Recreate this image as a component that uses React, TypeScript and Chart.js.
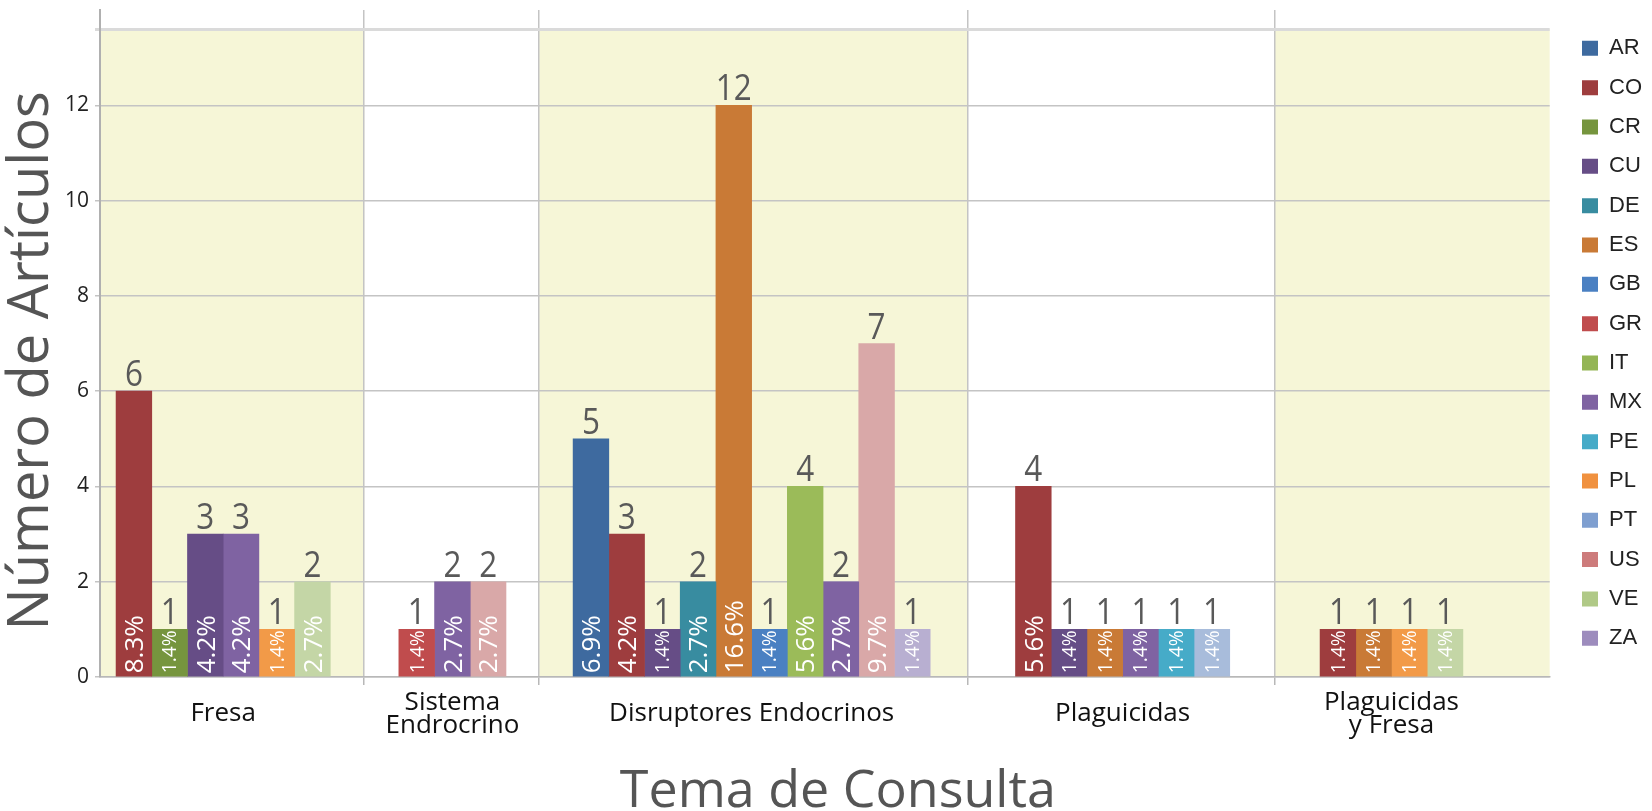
import React, { useEffect, useRef } from 'react';
import { Chart, registerables } from 'chart.js';

Chart.register(...registerables);

// ---------------- DATA ----------------
const categories: (string | string[])[] = [
  'Fresa',
  ['Sistema', 'Endrocrino'],
  'Disruptores Endocrinos',
  'Plaguicidas',
  ['Plaguicidas', 'y Fresa'],
];

const countries = ['AR', 'CO', 'CR', 'CU', 'DE', 'ES', 'GB', 'GR', 'IT', 'MX', 'PE', 'PL', 'PT', 'US', 'VE', 'ZA'];

const fresaCountries = ['CO', 'CR', 'CU', 'MX', 'PL', 'VE'];
const fresaValues = [6, 1, 3, 3, 1, 2];
const fresaPercents = ['8.3%', '1.4%', '4.2%', '4.2%', '1.4%', '2.7%'];

const sistemaCountries = ['GR', 'MX', 'US'];
const sistemaValues = [1, 2, 2];
const sistemaPercents = ['1.4%', '2.7%', '2.7%'];

const disruptoresCountries = ['AR', 'CO', 'CU', 'DE', 'ES', 'GB', 'IT', 'MX', 'US', 'ZA'];
const disruptoresValues = [5, 3, 1, 2, 12, 1, 4, 2, 7, 1];
const disruptoresPercents = ['6.9%', '4.2%', '1.4%', '2.7%', '16.6%', '1.4%', '5.6%', '2.7%', '9.7%', '1.4%'];

const plaguicidasCountries = ['CO', 'CU', 'ES', 'MX', 'PE', 'PT'];
const plaguicidasValues = [4, 1, 1, 1, 1, 1];
const plaguicidasPercents = ['5.6%', '1.4%', '1.4%', '1.4%', '1.4%', '1.4%'];

const plagFresaCountries = ['CO', 'ES', 'PL', 'VE'];
const plagFresaValues = [1, 1, 1, 1];
const plagFresaPercents = ['1.4%', '1.4%', '1.4%', '1.4%'];

const yTickValues = [0, 2, 4, 6, 8, 10, 12];
const yAxisMax = 14;

const xTitle = 'Tema de Consulta';
const yTitle = 'Número de Artículos';

// ---------------- STYLE / LAYOUT ----------------
const BAR_COLORS = [
  '#3e6a9f', '#9e3d3e', '#76953e', '#664d86', '#388ca0', '#c97a36', '#4a80c2', '#c04c4d',
  '#9bbb59', '#7f63a2', '#46abc8', '#f29a48', '#a8bcdb', '#d9a8a8', '#c4d6a6', '#b8afd1',
];
const LEGEND_COLORS = [
  '#3e6a9f', '#9e3d3e', '#76953e', '#664d86', '#388ca0', '#c97a36', '#4a80c2', '#c04c4d',
  '#94b555', '#7f63a2', '#46abc8', '#f0913f', '#7f9fd0', '#cd7b7b', '#b0c987', '#9d8cbd',
];
// width of every category band and the gap before its first bar, in bar widths
const BAND_UNITS = [7.4, 4.9, 12, 8.6, 7.7];
const BAND_LEFT_PAD = [0.45, 0.97, 0.95, 1.34, 1.27];
const BAND_SHADED = [true, false, true, false, true];
const SHADE_COLOR = '#f6f6d7';
const SHADE_TOP = 13.6;

const groups = [
  { c: fresaCountries, v: fresaValues, p: fresaPercents },
  { c: sistemaCountries, v: sistemaValues, p: sistemaPercents },
  { c: disruptoresCountries, v: disruptoresValues, p: disruptoresPercents },
  { c: plaguicidasCountries, v: plaguicidasValues, p: plaguicidasPercents },
  { c: plagFresaCountries, v: plagFresaValues, p: plagFresaPercents },
];

const bandStarts: number[] = [];
BAND_UNITS.reduce((acc, w) => { bandStarts.push(acc); return acc + w; }, 0);
const totalUnits = BAND_UNITS.reduce((a, b) => a + b, 0);

type Pt = { x: number; y: number; pct: string };
const perCountry: Pt[][] = countries.map(() => []);
const groupCenters: number[] = [];
groups.forEach((g, gi) => {
  const start = bandStarts[gi] + BAND_LEFT_PAD[gi];
  groupCenters.push(start + g.v.length / 2);
  g.c.forEach((country, j) => {
    const ci = countries.indexOf(country);
    perCountry[ci].push({ x: start + j + 0.5, y: g.v[j], pct: g.p[j] });
  });
});

// x ticks: band boundaries (grid lines) and group centres (labels)
const xTickEntries: { value: number; label: string | string[]; boundary: boolean }[] = [];
bandStarts.forEach((s, i) => {
  if (i > 0) xTickEntries.push({ value: s, label: '', boundary: true });
  xTickEntries.push({ value: groupCenters[i], label: categories[i], boundary: false });
});

const bandPlugin = {
  id: 'bands',
  beforeDraw(chart: any) {
    const { ctx, scales } = chart;
    const x = scales.x;
    const y = scales.y;
    const top = y.getPixelForValue(SHADE_TOP);
    const bottom = y.getPixelForValue(0);
    ctx.save();
    ctx.fillStyle = SHADE_COLOR;
    bandStarts.forEach((s, i) => {
      if (!BAND_SHADED[i]) return;
      const l = x.getPixelForValue(s);
      const r = x.getPixelForValue(s + BAND_UNITS[i]);
      ctx.fillRect(l, top, r - l, bottom - top);
    });
    ctx.restore();
  },
};

const titlePlugin = {
  id: 'axisTitles',
  afterDraw(chart: any) {
    const ctx = chart.ctx;
    const area = chart.chartArea;
    ctx.save();
    ctx.fillStyle = '#555555';
    ctx.textAlign = 'center';
    ctx.textBaseline = 'middle';
    ctx.font = '52px "Open Sans"';
    ctx.fillText(xTitle, area.left + (area.right - area.left) * 0.509, 792);
    ctx.translate(32, area.top + (area.bottom - area.top) * 0.526);
    ctx.rotate(-Math.PI / 2);
    ctx.font = '56px "Open Sans"';
    ctx.fillText(yTitle, 0, 0);
    ctx.restore();
  },
};

const labelPlugin = {
  id: 'barLabels',
  afterDatasetsDraw(chart: any) {
    const ctx = chart.ctx;
    chart.data.datasets.forEach((ds: any, di: number) => {
      const meta = chart.getDatasetMeta(di);
      meta.data.forEach((bar: any, i: number) => {
        const pt = ds.data[i] as Pt;
        const { x, y, base } = bar.getProps(['x', 'y', 'base'], true);
        // value above bar
        ctx.save();
        ctx.fillStyle = '#595959';
        ctx.font = '37px "Open Sans"';
        ctx.textAlign = 'center';
        ctx.textBaseline = 'alphabetic';
        ctx.translate(x, y - 5);
        ctx.scale(0.85, 1);
        ctx.fillText(String(pt.y), 0, 0);
        ctx.restore();
        // percentage inside bar
        ctx.save();
        let size = 26;
        ctx.font = `${size}px "Open Sans"`;
        const w = ctx.measureText(pt.pct).width;
        const avail = base - y - 4;
        if (w > avail) size = (size * avail) / w;
        ctx.font = `${size}px "Open Sans"`;
        ctx.fillStyle = '#ffffff';
        ctx.textAlign = 'left';
        ctx.textBaseline = 'alphabetic';
        ctx.translate(x, base - 3);
        ctx.rotate(-Math.PI / 2);
        ctx.fillText(pt.pct, 0, size * 0.357);
        ctx.restore();
      });
    });
  },
};

const zeroPadding = (axis: any) => {
  axis.paddingTop = 0;
  axis.paddingBottom = 0;
  axis.paddingLeft = 0;
  axis.paddingRight = 0;
};

export default function App() {
  const ref = useRef<HTMLCanvasElement | null>(null);

  useEffect(() => {
    document.body.style.margin = '0';
    if (!ref.current) return;
    Chart.defaults.font.family = '"Open Sans", sans-serif';
    const chart = new Chart(ref.current, {
      type: 'bar',
      data: {
        datasets: countries.map((c, i) => ({
          label: c,
          data: perCountry[i] as any,
          backgroundColor: BAR_COLORS[i],
          borderWidth: 0,
          grouped: false,
          barPercentage: 1,
          categoryPercentage: 1,
          xAxisID: 'x',
          yAxisID: 'y',
        })),
      },
      options: {
        animation: false,
        responsive: false,
        devicePixelRatio: 1,
        events: [],
        layout: { padding: { top: 10, left: 0, right: 0, bottom: 0 } },
        plugins: {
          tooltip: { enabled: false },
          legend: {
            position: 'right',
            align: 'start',
            title: { display: true, text: '', font: { size: 10, lineHeight: 1 }, padding: 0 },
            labels: {
              boxWidth: 16,
              boxHeight: 15,
              padding: 17.33,
              color: '#222222',
              font: { family: '"Liberation Sans", Arial, sans-serif', size: 22 },
              generateLabels: () =>
                countries.map((c, i) => ({
                  text: c,
                  fillStyle: LEGEND_COLORS[i],
                  strokeStyle: LEGEND_COLORS[i],
                  lineWidth: 0,
                  hidden: false,
                  datasetIndex: i,
                  fontColor: '#222222',
                })),
            },
          },
        },
        scales: {
          x: {
            type: 'linear',
            min: 0,
            max: totalUnits,
            bounds: 'data',
            offset: false,
            afterBuildTicks: (axis: any) => {
              axis.ticks = xTickEntries.map((t) => ({ value: t.value }));
            },
            afterFit: (axis: any) => {
              axis.height = 134;
              zeroPadding(axis);
            },
            ticks: {
              autoSkip: false,
              maxRotation: 0,
              minRotation: 0,
              padding: 18,
              crossAlign: 'center',
              color: '#111111',
              font: { size: 26, lineHeight: 0.85 },
              callback: (_v: any, i: number) => xTickEntries[i]?.label ?? '',
            },
            grid: {
              offset: false,
              color: (c: any) => (xTickEntries[c.index]?.boundary ? '#c4c4c4' : 'rgba(0,0,0,0)'),
              tickColor: (c: any) => (xTickEntries[c.index]?.boundary ? '#b8b8b8' : 'rgba(0,0,0,0)'),
              lineWidth: 1.5,
              tickLength: 8,
            },
            border: { display: true, color: '#b8b8b8', width: 1.5 },
            title: { display: false },
          },
          y: {
            type: 'linear',
            min: 0,
            max: yAxisMax,
            afterBuildTicks: (axis: any) => {
              axis.ticks = [...yTickValues, SHADE_TOP].map((v) => ({ value: v }));
            },
            afterFit: (axis: any) => {
              axis.width = 100;
              zeroPadding(axis);
            },
            ticks: {
              padding: 6,
              color: '#222222',
              font: { size: 21 },
              callback: (v: any) => (yTickValues.includes(v) ? String(v) : ''),
            },
            grid: {
              color: (c: any) => (c.tick && c.tick.value === SHADE_TOP ? '#dadada' : '#c4c4c4'),
              lineWidth: (c: any) => (c.tick && c.tick.value === SHADE_TOP ? 3 : 1.5),
              tickLength: 5,
            },
            border: { display: true, color: '#b0b0b0', width: 2 },
            title: { display: false },
          },
          spacer: {
            type: 'linear',
            position: 'right',
            display: true,
            grid: { display: false },
            border: { display: false },
            ticks: { display: false },
            afterFit: (axis: any) => {
              axis.width = 15;
              zeroPadding(axis);
            },
          },
        } as any,
      },
      plugins: [bandPlugin, labelPlugin, titlePlugin],
    } as any);
    return () => chart.destroy();
  }, []);

  return (
    <div style={{ width: 1652, height: 811 }}>
      <canvas ref={ref} width={1652} height={811} style={{ display: 'block' }} />
    </div>
  );
}
